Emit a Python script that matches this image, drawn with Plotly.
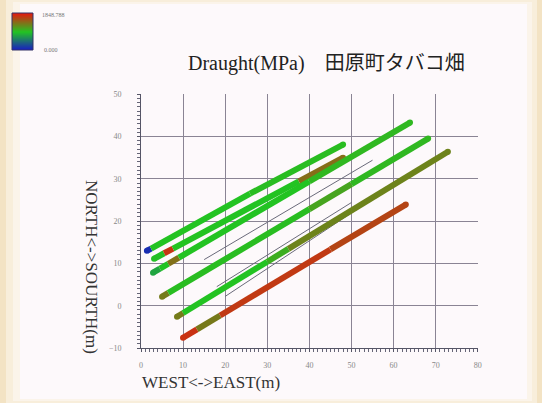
import plotly.graph_objects as go
from plotly.colors import sample_colorscale

# ---------------- data ----------------
CMIN = 0.0
CMAX = 1848.788
colorscale = [[0.0, "#1818c8"], [0.5, "#22c422"], [1.0, "#e41a10"]]

# each pass: vertex x, y (m) and draught value of segment starting at vertex
pass_a_x = [1.4, 2.4, 25.9, 48.0]
pass_a_y = [13.0, 13.5, 26.5, 38.1]
pass_a_v = [120, 930, 960]

pass_b_x = [3.1, 5.5, 7.6, 37.5, 48.0]
pass_b_y = [11.1, 12.4, 13.5, 29.4, 35.0]
pass_b_v = [900, 1700, 930, 1400]

pass_c_x = [2.85, 4.5, 6.5, 9.0, 40.0, 63.9]
pass_c_y = [7.8, 8.76, 9.92, 11.37, 29.4, 43.3]
pass_c_v = [760, 920, 1380, 930, 990]

pass_d_x = [5.0, 6.5, 40.0, 50.0, 68.2]
pass_d_y = [2.13, 3.02, 22.82, 28.73, 39.5]
pass_d_v = [1320, 960, 1100, 990]

pass_e_x = [8.55, 10.0, 30.0, 35.0, 72.9]
pass_e_y = [-2.6, -1.72, 10.4, 13.43, 36.4]
pass_e_v = [1320, 930, 1050, 1280]

pass_f_x = [9.98, 13.3, 18.8, 45.0, 62.9]
pass_f_y = [-7.57, -5.59, -2.32, 13.3, 23.9]
pass_f_v = [1720, 1330, 1680, 1620]

thin_x = [15.0, 55.0, None, 18.0, 50.0, None, 20.0, 60.0]
thin_y = [10.9, 34.4, None, 4.5, 24.4, None, 2.2, 28.5]

x_ticks = [0, 10, 20, 30, 40, 50, 60, 70, 80]
y_ticks = [-10, 0, 10, 20, 30, 40, 50]

title_text = "Draught(MPa)\u3000田原町タバコ畑"
x_title = "WEST&lt;-&gt;EAST(m)"
y_title = "NORTH&lt;-&gt;SOURTH(m)"
cbar_labels = ["0.000", "1848.788"]

# ---------------- figure ----------------
W, H = 542, 403
PX0, PX1, PY0, PY1 = 141, 478, 94, 348   # plot area in pixels


def fx(px):
    return px / W


def fy(py):
    return 1 - py / H


fig = go.Figure()

fig.add_trace(go.Scatter(x=thin_x, y=thin_y, mode="lines",
                         line=dict(color="#6a6a7a", width=1),
                         hoverinfo="skip", showlegend=False))


def color_of(v):
    return sample_colorscale(colorscale, [(v - CMIN) / (CMAX - CMIN)])[0]


passes = [
    (pass_a_x, pass_a_y, pass_a_v),
    (pass_b_x, pass_b_y, pass_b_v),
    (pass_c_x, pass_c_y, pass_c_v),
    (pass_d_x, pass_d_y, pass_d_v),
    (pass_e_x, pass_e_y, pass_e_v),
    (pass_f_x, pass_f_y, pass_f_v),
]
for xs, ys, vs in passes:
    for i, v in enumerate(vs):
        fig.add_trace(go.Scatter(x=xs[i:i + 2], y=ys[i:i + 2], mode="lines",
                                 line=dict(color=color_of(v), width=6),
                                 hoverinfo="skip", showlegend=False))
    fig.add_trace(go.Scatter(x=[xs[0], xs[-1]], y=[ys[0], ys[-1]], mode="markers",
                             marker=dict(color=[color_of(vs[0]), color_of(vs[-1])],
                                         size=6, line=dict(width=0)),
                             hoverinfo="skip", showlegend=False))

# colour bar drawn as a small smoothed heatmap on its own axes
fig.add_trace(go.Heatmap(z=[[CMIN, CMIN], [CMAX, CMAX]], x=[0, 1], y=[0, 1],
                         zmin=CMIN, zmax=CMAX, colorscale=colorscale,
                         zsmooth="best", showscale=False, hoverinfo="skip",
                         xaxis="x2", yaxis="y2"))
fig.add_shape(type="rect", xref="x2 domain", yref="y2 domain",
              x0=0, x1=1, y0=0, y1=1, line=dict(color="#333366", width=1))
fig.add_annotation(text=cbar_labels[1], xref="paper", yref="paper",
                   x=fx(40), y=fy(15), showarrow=False, xanchor="left",
                   yanchor="middle",
                   font=dict(size=6, color="#777777", family="Liberation Serif"))
fig.add_annotation(text=cbar_labels[0], xref="paper", yref="paper",
                   x=fx(42), y=fy(50), showarrow=False, xanchor="left",
                   yanchor="middle",
                   font=dict(size=6, color="#777777", family="Liberation Serif"))

# background panel (soft edges)
for (x0, x1, y0, y1, c) in [(6, 537, 0, 403, "#f8eedb"),
                            (13, 532, 2, 401, "#fbf4ea"),
                            (20, 527, 4, 399, "#fdf9fb")]:
    fig.add_shape(type="rect", xref="paper", yref="paper", layer="below",
                  x0=fx(x0), x1=fx(x1), y0=fy(y1), y1=fy(y0),
                  fillcolor=c, line=dict(width=0))

fig.add_annotation(text=title_text, xref="paper", yref="paper",
                   x=fx(326), y=fy(63),
                   showarrow=False, xanchor="center", yanchor="middle",
                   font=dict(size=20, color="#222222",
                             family="Liberation Serif, Noto Sans CJK JP"))
fig.add_annotation(text=x_title, xref="paper", yref="paper",
                   x=fx(140), y=fy(382),
                   showarrow=False, xanchor="left", yanchor="middle",
                   font=dict(size=17, color="#333333", family="Liberation Serif"))
fig.add_annotation(text=y_title, xref="paper", yref="paper",
                   x=fx(92), y=fy(267),
                   showarrow=False, xanchor="center", yanchor="middle", textangle=90,
                   font=dict(size=17, color="#333333", family="Liberation Serif"))

axis_common = dict(showgrid=True, gridcolor="#8a8494", gridwidth=1,
                   showline=True, linecolor="#555566", linewidth=1,
                   ticks="outside", ticklen=3, tickcolor="#555566",
                   tickfont=dict(size=8, color="#888888", family="Liberation Serif"),
                   zeroline=False, automargin=False,
                   minor=dict(ticks="outside", ticklen=3, tickcolor="#666677",
                              dtick=1, showgrid=False))

fig.update_layout(
    width=W, height=H, margin=dict(l=0, r=0, t=0, b=0),
    paper_bgcolor="#f3e3c4", plot_bgcolor="#fdf9fb", showlegend=False,
    xaxis=dict(domain=[fx(PX0), fx(PX1)], range=[0, 80.05], tickvals=x_ticks,
               ticklabelstandoff=6, **axis_common),
    yaxis=dict(domain=[fy(PY1), fy(PY0)], range=[-10, 50.05], tickvals=y_ticks,
               ticklabelstandoff=14, **axis_common),
    xaxis2=dict(domain=[fx(12), fx(33)], range=[0, 1], visible=False,
                fixedrange=True, anchor="y2"),
    yaxis2=dict(domain=[fy(50), fy(13)], range=[0, 1], visible=False,
                fixedrange=True, anchor="x2"),
)

fig.write_html("out.html", config={"displayModeBar": False},
               post_script="document.body.style.margin='0';")
